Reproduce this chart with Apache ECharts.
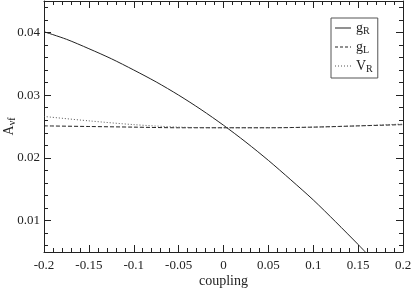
<!DOCTYPE html>
<html><head><meta charset="utf-8">
<script src="https://cdn.jsdelivr.net/npm/echarts@6/dist/echarts.min.js"></script>
<style>html,body{margin:0;padding:0;background:#fff}#c{width:412px;height:289px}</style>
</head><body><div id="c"></div>
<script>
const coupling = [-0.2,-0.175,-0.15,-0.125,-0.1,-0.075,-0.05,-0.025,0,0.025,0.05,0.075,0.1,0.125,0.15,0.158];
const gR = [0.0401,0.0389,0.0374,0.0358,0.0340,0.0321,0.0300,0.0277,0.0252,0.0225,0.0196,0.0165,0.0133,0.0098,0.0062,0.0050];
const gLx = [-0.2,-0.15,-0.1,-0.05,0,0.05,0.1,0.15,0.2];
const gL = [0.0251,0.0250,0.0249,0.0248,0.0248,0.0248,0.0249,0.0251,0.0253];
const VR = [0.0266,0.0259,0.0253,0.0249,0.0248,0.0248,0.0249,0.0251,0.0254];
const yMajor = [0.01,0.02,0.03,0.04];
const yMinor = [0.006,0.008,0.012,0.014,0.016,0.018,0.022,0.024,0.026,0.028,0.032,0.034,0.036,0.038,0.042,0.044];
const xLabels = {"-0.2":"-0.2","-0.15":"-0.15","-0.1":"-0.1","-0.05":"-0.05","0":"0","0.05":"0.05","0.1":"0.1","0.15":"0.15","0.2":"0.2"};

const F = 'Liberation Serif';
const ink = '#222';
function zip(xs, ys){ return xs.map((x,i)=>[x, ys[i]]); }

function yAx(pos, vals, len, line, labels){
  return {
    type:'value', min:0.005, max:0.045, position:pos,
    axisLine:{show:line, onZero:false, lineStyle:{color:ink,width:1}},
    axisTick:{show:true, inside:true, length:len, customValues:vals, lineStyle:{color:ink}},
    axisLabel:{show:labels, customValues:vals, fontFamily:F, fontSize:13, color:ink, margin:4,
      formatter:v=>(+v.toFixed(3)).toString()},
    splitLine:{show:false},
    name: labels ? '{a|A}{s|νf}' : '',
    nameLocation:'middle', nameGap:27, nameRotate:90, nameMoveOverlap:false,
    nameTextStyle:{rich:{a:{fontFamily:F,fontSize:14,color:ink},s:{fontFamily:F,fontSize:10,color:ink,verticalAlign:'bottom',padding:[6,0,0,0]}}}
  };
}
function xAx(pos, labels){
  return {
    type:'value', min:-0.2, max:0.2, interval:0.05, position:pos,
    axisLine:{show:true, onZero:false, lineStyle:{color:ink,width:1}},
    axisTick:{show:true, inside:true, length:7, lineStyle:{color:ink}},
    minorTick:{show:true, splitNumber:5, length:4, lineStyle:{color:ink}},
    axisLabel:{show:labels, fontFamily:F, fontSize:13, color:ink, margin:7,
      formatter:v=>{const k=(+v.toFixed(3)).toString(); return xLabels[k]!==undefined?xLabels[k]:k;}},
    splitLine:{show:false},
    name: labels ? 'coupling' : '', nameLocation:'middle', nameGap:22, nameMoveOverlap:false,
    nameTextStyle:{fontFamily:F, fontSize:14, color:ink}
  };
}

const iconSolid = 'path://M0,0H16V1H0Z';
const iconDash = 'path://M0,0H3V1H0ZM5,0H8V1H5ZM10,0H13V1H10ZM15,0H16V1H15Z';
const iconDot = 'path://M0,0H1V1H0ZM3,0H4V1H3ZM6,0H7V1H6ZM9,0H10V1H9ZM12,0H13V1H12ZM15,0H16V1H15Z';

const chart = echarts.init(document.getElementById('c'), null, {renderer:'canvas'});
const lineBase = {type:'line', showSymbol:false, symbol:'none', smooth:0.3, clip:true, xAxisIndex:0, yAxisIndex:0};
chart.setOption({
  animation:false,
  backgroundColor:'#fff',
  grid:{left:44, right:9, top:1, bottom:37, outerBoundsMode:'none'},
  xAxis:[xAx('bottom', true), xAx('top', false)],
  yAxis:[yAx('left', yMajor, 7, true, true), yAx('left', yMinor, 4, false, false), yAx('right', yMajor, 7, true, false), yAx('right', yMinor, 4, false, false)],
  legend:{
    orient:'vertical', left:331, top:18,
    padding:[2,5,4,4], itemGap:3, itemWidth:16, itemHeight:10,
    borderColor:'#555', borderWidth:1, borderRadius:0, backgroundColor:'#fff',
    data:[{name:'gR', icon:iconSolid},{name:'gL', icon:iconDash},{name:'VR', icon:iconDot}],
    formatter:n=>'{m|'+n.charAt(0)+'}{s|'+n.charAt(1)+'}',
    textStyle:{lineHeight:16, rich:{m:{fontFamily:F,fontSize:14,color:ink,lineHeight:16},s:{fontFamily:F,fontSize:10,color:ink,lineHeight:16,verticalAlign:'bottom',padding:[5,0,0,0]}}}
  },
  series:[
    Object.assign({}, lineBase, {name:'gR', data:zip(coupling,gR), lineStyle:{color:ink,width:1,type:'solid'}, itemStyle:{color:ink}}),
    Object.assign({}, lineBase, {name:'gL', data:zip(gLx,gL), lineStyle:{color:ink,width:1,type:[4,2]}, itemStyle:{color:ink}}),
    Object.assign({}, lineBase, {name:'VR', data:zip(gLx,VR), lineStyle:{color:'#555',width:1,type:[1,2]}, itemStyle:{color:'#555'}})
  ]
});
</script></body></html>
